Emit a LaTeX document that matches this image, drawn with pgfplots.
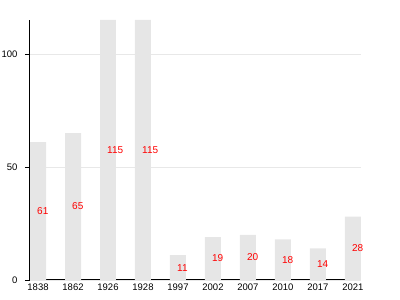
\documentclass[border=0pt]{standalone}
\usepackage{pgfplots}
\pgfplotsset{compat=1.18}
\usepackage{fontspec}
\setmainfont{Liberation Sans}
\definecolor{barcol}{HTML}{E6E6E6}
\definecolor{gridcol}{HTML}{E8E8E8}
\begin{document}
\begin{tikzpicture}
\useasboundingbox (-30pt,-20pt) rectangle (370pt,280pt);
\begin{axis}[
  scale only axis,
  width=331pt, height=260pt,
  xmin=-0.229, xmax=9.23,
  ymin=0, ymax=115,
  axis x line*=bottom, axis y line*=left,
  axis line style={black, line width=1pt, -},
  xtick={0,...,9},
  xticklabels={1838,1862,1926,1928,1997,2002,2007,2010,2017,2021},
  xtick style={draw=none},
  ytick={0,50,100},
  ytick style={draw=black, line width=0.8pt},
  ytick align=outside,
  major tick length=5pt,
  ymajorgrids,
  grid style={gridcol, thin},
  yticklabel style={xshift=-4pt},
  tick label style={font=\fontsize{9.5}{11}\selectfont},
  /pgf/number format/assume math mode=true,
  clip=false,
]
\addplot[ybar, bar width=0.457, fill=barcol, draw=none] coordinates {
  (0,61) (1,65) (2,115) (3,115) (4,11) (5,19) (6,20) (7,18) (8,14) (9,28)};
\addplot[draw=none, mark=none, nodes near coords, point meta=explicit symbolic,
  every node near coord/.style={anchor=west, inner sep=0pt, xshift=-1pt, text=red, font=\fontsize{10}{12}\selectfont}]
  table[meta=label] {
x y label
0 30.5 61
1 32.5 65
2 57.5 115
3 57.5 115
4 5.5 11
5 9.5 19
6 10 20
7 9 18
8 7 14
9 14 28
};
\end{axis}
\end{tikzpicture}
\end{document}
